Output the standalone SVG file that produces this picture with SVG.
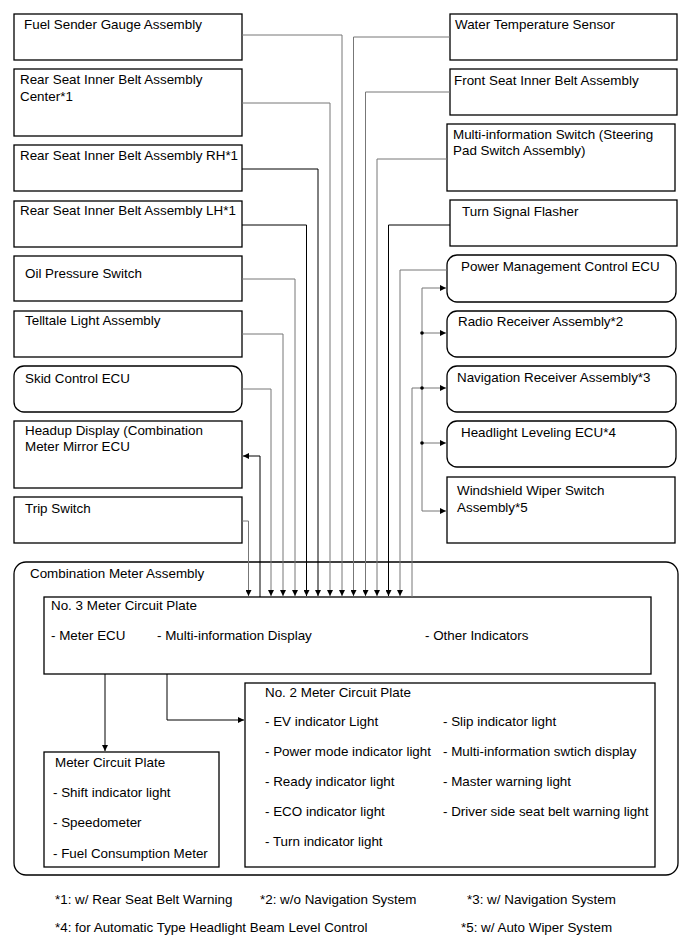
<svg xmlns="http://www.w3.org/2000/svg" width="691" height="952" viewBox="0 0 691 952">
<style>
text{font-family:"Liberation Sans",Arial,sans-serif;font-size:13.4px;fill:#000}
.box{fill:#fff;stroke:#000;stroke-width:1.3}
.c{fill:none;stroke:#000;stroke-width:1}
.g{fill:none;stroke:#777;stroke-width:1}
</style>
<defs>
<marker id="ah" viewBox="0 0 10 10" refX="10" refY="5" markerWidth="7" markerHeight="6" markerUnits="userSpaceOnUse" orient="auto">
<path d="M0,0 L10,5 L0,10 z" fill="#000"/>
</marker>
</defs>
<rect width="691" height="952" fill="#fff"/>

<g id="combination-meter">
<rect class="box" x="14" y="562" width="664" height="313" rx="12"/>
<text x="30" y="578">Combination Meter Assembly</text>
</g>

<g id="no3-plate">
<rect class="box" x="44" y="597" width="607" height="77"/>
<text x="51" y="610">No. 3 Meter Circuit Plate</text>
<text x="51" y="640">- Meter ECU</text>
<text x="157" y="640">- Multi-information Display</text>
<text x="425" y="640">- Other Indicators</text>
</g>

<g id="no2-plate">
<rect class="box" x="245" y="683" width="410" height="184"/>
<text x="265" y="697">No. 2 Meter Circuit Plate</text>
<text x="265" y="726">- EV indicator Light</text>
<text x="265" y="756">- Power mode indicator light</text>
<text x="265" y="786">- Ready indicator light</text>
<text x="265" y="816">- ECO indicator light</text>
<text x="265" y="846">- Turn indicator light</text>
<text x="443" y="726">- Slip indicator light</text>
<text x="443" y="756">- Multi-information swtich display</text>
<text x="443" y="786">- Master warning light</text>
<text x="443" y="816">- Driver side seat belt warning light</text>
</g>

<g id="meter-plate">
<rect class="box" x="44" y="752" width="175" height="115"/>
<text x="55" y="767">Meter Circuit Plate</text>
<text x="53" y="797">- Shift indicator light</text>
<text x="53" y="827">- Speedometer</text>
<text x="53" y="858">- Fuel Consumption Meter</text>
</g>

<g id="fuel-sender"><rect class="box" x="14" y="14" width="228" height="46"/><text x="24" y="29">Fuel Sender Gauge Assembly</text></g>
<g id="rear-center"><rect class="box" x="14" y="69" width="228" height="67"/><text x="20" y="84">Rear Seat Inner Belt Assembly</text><text x="20" y="101">Center*1</text></g>
<g id="rear-rh"><rect class="box" x="14" y="145" width="228" height="46"/><text x="20" y="160">Rear Seat Inner Belt Assembly RH*1</text></g>
<g id="rear-lh"><rect class="box" x="14" y="201" width="228" height="46"/><text x="20" y="215">Rear Seat Inner Belt Assembly LH*1</text></g>
<g id="oil-pressure"><rect class="box" x="14" y="256" width="228" height="45"/><text x="25" y="278">Oil Pressure Switch</text></g>
<g id="telltale"><rect class="box" x="14" y="311" width="228" height="46"/><text x="25" y="325">Telltale Light Assembly</text></g>
<g id="skid-control"><rect class="box" x="14" y="366" width="228" height="46" rx="10"/><text x="25" y="383">Skid Control ECU</text></g>
<g id="headup"><rect class="box" x="14" y="421" width="228" height="67"/><text x="25" y="435">Headup Display (Combination</text><text x="25" y="451">Meter Mirror ECU</text></g>
<g id="trip-switch"><rect class="box" x="14" y="497" width="228" height="46"/><text x="25" y="513">Trip Switch</text></g>

<g id="water-temp"><rect class="box" x="450" y="14" width="227" height="46"/><text x="455" y="29">Water Temperature Sensor</text></g>
<g id="front-seat"><rect class="box" x="450" y="69" width="227" height="46"/><text x="454" y="85">Front Seat Inner Belt Assembly</text></g>
<g id="multi-info-switch"><rect class="box" x="447" y="124" width="228" height="67"/><text x="453" y="139">Multi-information Switch (Steering</text><text x="453" y="155">Pad Switch Assembly)</text></g>
<g id="turn-flasher"><rect class="box" x="450" y="200" width="227" height="46"/><text x="462" y="216">Turn Signal Flasher</text></g>
<g id="power-mgmt"><rect class="box" x="447" y="255" width="229" height="47" rx="10"/><text x="461" y="271">Power Management Control ECU</text></g>
<g id="radio"><rect class="box" x="447" y="311" width="229" height="46" rx="10"/><text x="458" y="326">Radio Receiver Assembly*2</text></g>
<g id="navigation"><rect class="box" x="447" y="366" width="229" height="46" rx="10"/><text x="457" y="382">Navigation Receiver Assembly*3</text></g>
<g id="headlight"><rect class="box" x="447" y="421" width="229" height="46" rx="10"/><text x="461" y="437">Headlight Leveling ECU*4</text></g>
<g id="wiper-switch"><rect class="box" x="447" y="477" width="228" height="66"/><text x="457" y="495">Windshield Wiper Switch</text><text x="457" y="512">Assembly*5</text></g>

<g id="connectors">
<path class="g" d="M242,35 H342 V596" marker-end="url(#ah)"/>
<path class="g" d="M242,103 H330 V596" marker-end="url(#ah)"/>
<path class="c" d="M242,169 H318 V596" marker-end="url(#ah)"/>
<path class="c" d="M242,225 H306.5 V596" marker-end="url(#ah)"/>
<path class="g" d="M242,279 H295 V596" marker-end="url(#ah)"/>
<path class="g" d="M242,334 H283 V596" marker-end="url(#ah)"/>
<path class="g" d="M242,389 H271 V596" marker-end="url(#ah)"/>
<path class="c" d="M260,597 V456 H243" marker-end="url(#ah)"/>
<path class="g" d="M242,521 H248.5 V596" marker-end="url(#ah)"/>
<path class="g" d="M450,37 H353.5 V596" marker-end="url(#ah)"/>
<path class="g" d="M450,92 H365.5 V596" marker-end="url(#ah)"/>
<path class="g" d="M447,159 H377 V596" marker-end="url(#ah)"/>
<path class="c" d="M450,225 H388.5 V596" marker-end="url(#ah)"/>
<path class="g" d="M447,270 H400 V596" marker-end="url(#ah)"/>
<path class="g" d="M412,597 V388 H422"/>
<path class="g" d="M422,288 V511"/>
<path class="g" d="M422,288 H446" marker-end="url(#ah)"/>
<path class="g" d="M422,333 H446" marker-end="url(#ah)"/>
<path class="g" d="M422,388 H446" marker-end="url(#ah)"/>
<path class="g" d="M422,443 H446" marker-end="url(#ah)"/>
<path class="g" d="M422,511 H446" marker-end="url(#ah)"/>
<circle cx="422" cy="333" r="1.8" fill="#000"/>
<circle cx="422" cy="388" r="1.8" fill="#000"/>
<circle cx="422" cy="443" r="1.8" fill="#000"/>
<path class="c" d="M105,674 V751" marker-end="url(#ah)"/>
<path class="c" d="M167,674 V720 H244" marker-end="url(#ah)"/>
</g>

<g id="footnotes">
<text x="55" y="904">*1: w/ Rear Seat Belt Warning</text>
<text x="260" y="904">*2: w/o Navigation System</text>
<text x="467" y="904">*3: w/ Navigation System</text>
<text x="55" y="932">*4: for Automatic Type Headlight Beam Level Control</text>
<text x="461" y="932">*5: w/ Auto Wiper System</text>
</g>
</svg>
